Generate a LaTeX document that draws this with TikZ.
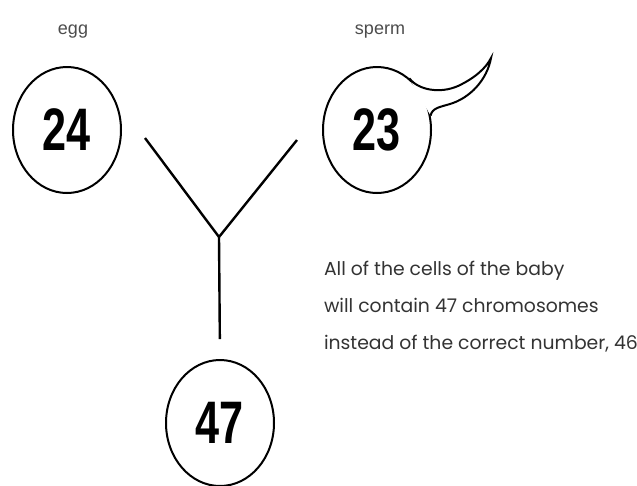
\documentclass[tikz,border=0pt]{standalone}
\usepackage{fontspec}
\setmainfont{Liberation Sans}
\newfontfamily\numfont[FakeStretch=0.72]{Liberation Sans}
\newfontfamily\notefont{Poppins}
\usetikzlibrary{positioning,shapes.geometric}

\begin{document}
\begin{tikzpicture}[x=1pt, y=-1pt, line width=2pt,
    cell/.style={draw, ellipse, inner sep=0pt, minimum width=108pt, minimum height=126pt, font=\numfont\bfseries\fontsize{60}{60}\selectfont},
    tag/.style={text=black!70, font=\fontsize{18}{18}\selectfont},
    note/.style={text=black!80, font=\notefont\fontsize{18.8}{37}\selectfont, align=left, inner sep=0pt}]
    \useasboundingbox (0,0) rectangle (637,485);
    \node[cell] (egg) at (67,130) {24};
    \node[cell] (sperm) at (377,130) {23};
    \node[cell] (baby) at (220,423) {47};
    \node[tag, above=23pt of egg, xshift=6pt] (eggtag) {egg};
    \node[tag, above=23pt of sperm, xshift=3pt] (spermtag) {sperm};
    % tail of the sperm
    \fill[white] (sperm.58) .. controls (418,90) and (440,94) .. (458,86)
      .. controls (475,78) and (486,68) .. (491,58)
      .. controls (487,80) and (470,98) .. (450,104)
      .. controls (440,107) and (432,108) .. (sperm.15) -- cycle;
    \draw (sperm.58) .. controls (418,90) and (440,94) .. (458,86)
      .. controls (475,78) and (486,68) .. (491,58)
      .. controls (487,80) and (470,98) .. (450,104)
      .. controls (440,107) and (432,108) .. (sperm.15);
    % the Y
    \coordinate (armL) at (145,138);
    \coordinate (armR) at (297,140);
    \coordinate (join) at (219,237);
    \draw[line width=2.4pt] (armL) -- (join) -- (armR);
    \draw[line width=2.4pt, shorten >=20pt] (join) -- (baby.north);
    \node[note, anchor=base west] (note) at (323,349) {All of the cells of the baby\\will contain 47 chromosomes\\instead of the correct number, 46};
\end{tikzpicture}
\end{document}
